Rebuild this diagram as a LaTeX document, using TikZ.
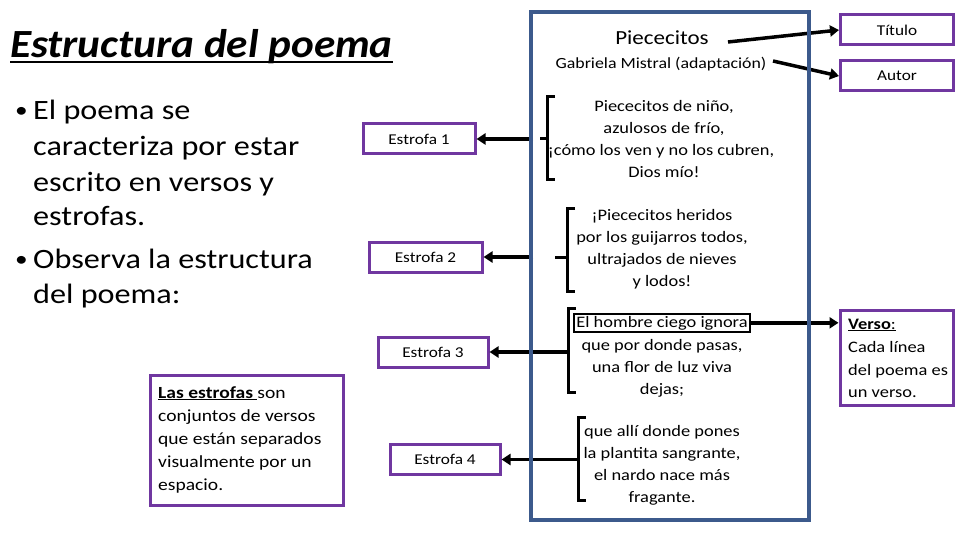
\documentclass[tikz,border=0pt]{standalone}
\usepackage{fontspec}
\setmainfont[FakeStretch=1.15]{Carlito}
\newfontfamily\titlefont[FakeStretch=1.08]{Carlito}
\usetikzlibrary{arrows.meta}
\definecolor{purp}{RGB}{112,55,160}
\definecolor{frameblue}{RGB}{60,90,140}
\begin{document}
\begin{tikzpicture}[x=1pt,y=-1pt,
 pbox/.style={draw=purp, line width=3pt, inner sep=0pt, minimum height=30pt, font=\fontsize{15}{18}\selectfont},
 conn/.style={line width=3.5pt, -{Triangle[length=9pt,width=11pt]}},
 brk/.style={line width=3pt},
 ln/.style={anchor=base, inner sep=0pt, font=\fontsize{16}{20}\selectfont},
 bl/.style={anchor=base west, inner sep=0pt, font=\fontsize{28}{34}\selectfont},
 dot/.style={anchor=base west, inner sep=0pt, font=\fontsize{22}{26}\selectfont},
 dl/.style={anchor=base west, inner sep=0pt, font=\fontsize{17}{22}\selectfont},
 vl/.style={anchor=base west, inner sep=0pt, font=\fontsize{16}{22}\selectfont},
]
\useasboundingbox[fill=white] (0,0) rectangle (960,540);

% title
\node[anchor=base west, inner sep=0pt, font=\titlefont\fontsize{40}{48}\selectfont\bfseries\itshape] (title) at (10,58) {Estructura del poema};
\draw[line width=2pt] ([yshift=-4pt]title.base west) -- ([yshift=-4pt]title.base east);

% bullets
\node[dot] (d1) at (15,118) {•};
\node[bl] (b1) at (33,120) {El poema se};
\node[bl] (b2) at (33,156) {caracteriza por estar};
\node[bl] (b3) at (33,191) {escrito en versos y};
\node[bl] (b4) at (33,225) {estrofas.};
\node[dot] (d2) at (15,266) {•};
\node[bl] (b5) at (33,268) {Observa la estructura};
\node[bl] (b6) at (33,303) {del poema:};

% estrofa boxes
\node[pbox, minimum width=112pt] (e1) at (419,139) {Estrofa 1};
\node[pbox, minimum width=113pt] (e2) at (425.5,257) {Estrofa 2};
\node[pbox, minimum width=110pt] (e3) at (433,352) {Estrofa 3};
\node[pbox, minimum width=110pt] (e4) at (445,459.5) {Estrofa 4};

% las estrofas box
\node[draw=purp, line width=3pt, minimum width=193pt, minimum height=130pt, inner sep=0pt] (def) at (246.5,440) {};
\node[dl] (def1) at (158,398) {\underline{\textbf{Las estrofas }}son};
\node[dl] (def2) at (158,421) {conjuntos de versos};
\node[dl] (def3) at (158,444) {que están separados};
\node[dl] (def4) at (158,467) {visualmente por un};
\node[dl] (def5) at (158,490) {espacio.};

% header in frame
\node[anchor=base, inner sep=0pt, font=\fontsize{20}{24}\selectfont] (pie) at (662,45) {Piececitos};
\node[anchor=base, inner sep=0pt, font=\fontsize{15.5}{20}\selectfont] (gab) at (661,69) {Gabriela Mistral (adaptación)};
\node[pbox, minimum width=113pt] (tit) at (897,30) {Título};
\node[pbox, minimum width=113pt] (aut) at (897,76) {Autor};
\coordinate (pieS) at (728,42);
\coordinate (gabS) at (773,61);
\draw[conn] (pieS) -- (tit.west);
\draw[conn] (gabS) -- (aut.west);

% stanza 1
\node[ln] (s1a) at (664,112) {Piececitos de niño,};
\node[ln] (s1b) at (664,134) {azulosos de frío,};
\node[ln] (s1c) at (661,156) {¡cómo los ven y no los cubren,};
\node[ln] (s1d) at (664,178) {Dios mío!};
% stanza 2
\node[ln] (s2a) at (662,220) {¡Piececitos heridos};
\node[ln] (s2b) at (662,242) {por los guijarros todos,};
\node[ln] (s2c) at (662,264) {ultrajados de nieves};
\node[ln] (s2d) at (662,286) {y lodos!};
% stanza 3
\node[ln, draw, line width=2pt, inner sep=2pt] (s3a) at (662,327) {El hombre ciego ignora};
\node[ln] (s3b) at (662,350) {que por donde pasas,};
\node[ln] (s3c) at (662,372) {una flor de luz viva};
\node[ln] (s3d) at (662,394) {dejas;};
% stanza 4
\node[ln] (s4a) at (662,436) {que allí donde pones};
\node[ln] (s4b) at (662,458) {la plantita sangrante,};
\node[ln] (s4c) at (662,480) {el nardo nace más};
\node[ln] (s4d) at (662,502) {fragante.};

% brackets
\draw[brk] (555,97) -- (547,97) -- (547,180) -- (555,180);
\draw[brk] (540,139) -- (547,139);
\draw[brk] (575,208) -- (567,208) -- (567,291) -- (575,291);
\draw[brk] (555,257) -- (567,257);
\draw[brk] (576,308) -- (568,308) -- (568,392) -- (576,392);
\draw[brk] (586,417) -- (578,417) -- (578,500) -- (586,500);

% connectors to estrofas
\coordinate (n1) at (533,139);
\coordinate (n2) at (533,257);
\coordinate (n3) at (568,352);
\coordinate (n4) at (578,459.5);
\draw[conn] (n1) -- (e1.east);
\draw[conn] (n2) -- (e2.east);
\draw[conn] (n3) -- (e3.east);
\draw[conn] (n4) -- (e4.east);

% verso box
\node[draw=purp, line width=3pt, minimum width=113pt, minimum height=95pt, inner sep=0pt] (verso) at (896.5,357.5) {};
\node[vl] (v1) at (848,329) {\underline{\textbf{Verso}:}};
\node[vl] (v2) at (848,352) {Cada línea};
\node[vl] (v3) at (848,375) {del poema es};
\node[vl] (v4) at (848,397) {un verso.};
\draw[conn] (s3a.east) -- (verso.west |- s3a.east);

% frame
\node[draw=frameblue, line width=4pt, minimum width=278pt, minimum height=508pt, inner sep=0pt] (frame) at (670,266) {};
\end{tikzpicture}
\end{document}
